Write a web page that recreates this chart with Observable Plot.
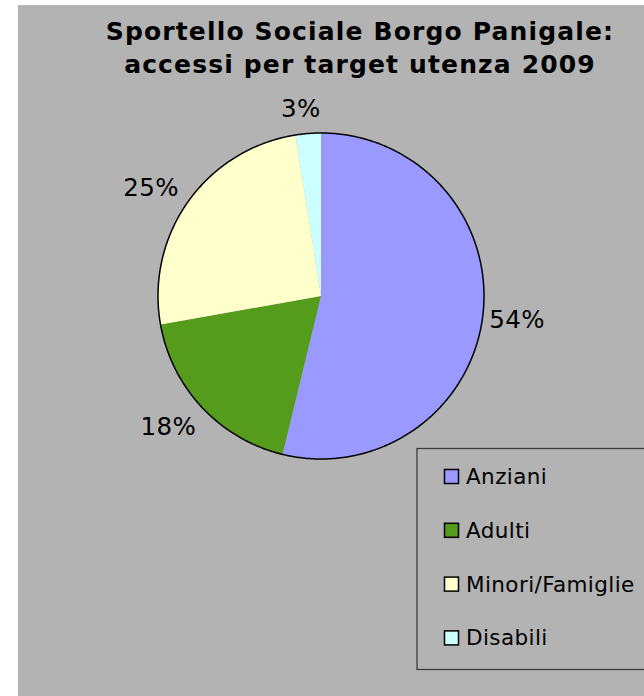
<!DOCTYPE html>
<html>
<head>
<meta charset="utf-8">
<script src="https://cdn.jsdelivr.net/npm/d3@7"></script>
<script src="https://cdn.jsdelivr.net/npm/@observablehq/plot@0.6"></script>
<style>
  html, body { margin: 0; padding: 0; background: #ffffff; }
  #wrap { position: absolute; left: 18px; top: 5px; width: 626px; height: 691px; background: #b3b3b3; overflow: hidden; font-family: "DejaVu Sans", Verdana, sans-serif; }
  #title { position: absolute; left: 0; top: 10px; width: 684px; text-align: center; font-weight: bold; font-size: 25px; line-height: 33px; letter-spacing: 1.15px; color: #000; }
  #plot { position: absolute; left: 0; top: 0; }
  #legend { position: absolute; left: 0; top: 0; }
</style>
</head>
<body>
<div id="wrap">
  <div id="plot"></div>
  <div id="title">Sportello Sociale Borgo Panigale:<br>accessi per target utenza 2009</div>
  <svg id="legend" width="626" height="691"></svg>
</div>
<script>
// ---- data ----
const categories = ["Anziani", "Adulti", "Minori/Famiglie", "Disabili"];
const shares = [53.8, 18.4, 25.3, 2.5];   // percent of accessi
const colors = ["#9999ff", "#559b1c", "#ffffcc", "#ccffff"];
const labels = ["54%", "18%", "25%", "3%"];

// ---- pie geometry (in unit-circle data coordinates) ----
const pie = d3.pie().sort(null).value(d => d)(shares);
const slicePts = [];
pie.forEach((p, i) => {
  const name = categories[i];
  slicePts.push({name, x: 0, y: 0});
  const n = Math.max(2, Math.ceil((p.endAngle - p.startAngle) / (Math.PI / 360)));
  for (let k = 0; k <= n; k++) {
    const a = p.startAngle + (p.endAngle - p.startAngle) * k / n;
    slicePts.push({name, x: Math.sin(a), y: Math.cos(a)});
  }
  slicePts.push({name, x: 0, y: 0});
});
const circlePts = d3.range(0, 721).map(k => {
  const a = k / 720 * 2 * Math.PI;
  return {x: Math.sin(a), y: Math.cos(a)};
});

// label placement: just outside the rim, nudged by half the text box
const R = 163; // pixel radius, used only to convert pixel offsets
const labelPts = pie.map((p, i) => {
  const a = (p.startAngle + p.endAngle) / 2;
  const ux = Math.sin(a), uy = Math.cos(a);
  const hw = labels[i].length === 2 ? 19.5 : 27.5;
  const hh = 14;
  return {
    text: labels[i],
    x: ((R + 12) * ux + hw * ux) / R,
    y: ((R + 12) * uy + hh * uy) / R
  };
});

const chart = Plot.plot({
  width: 626,
  height: 691,
  marginLeft: 139.5,
  marginRight: 160.5,
  marginTop: 127.5,
  marginBottom: 237.5,
  x: {domain: [-1, 1], axis: null},
  y: {domain: [-1, 1], axis: null},
  color: {domain: categories, range: colors},
  style: {background: "transparent", fontFamily: "DejaVu Sans, Verdana, sans-serif"},
  marks: [
    Plot.line(slicePts, {x: "x", y: "y", z: "name", fill: "name", stroke: "none", curve: "linear"}),
    Plot.line(circlePts, {x: "x", y: "y", stroke: "#000", strokeWidth: 1.5, fill: "none", curve: "linear"}),
    Plot.text(labelPts, {x: "x", y: "y", text: "text", fontSize: 24.5, fill: "#000", textAnchor: "middle", lineAnchor: "middle", dx: -5, dy: 2, style: {letterSpacing: "0.4px"}})
  ]
});
chart.querySelectorAll("text").forEach(t => t.style.letterSpacing = "0.4px");
document.getElementById("plot").appendChild(chart);

// ---- legend (page coords minus wrap offset 18,5) ----
const lg = d3.select("#legend");
lg.append("rect")
  .attr("x", 399).attr("y", 443.5).attr("width", 400).attr("height", 221)
  .attr("fill", "none").attr("stroke", "#3c3c3c").attr("stroke-width", 1.3);
categories.forEach((c, i) => {
  const base = 479 + i * 53.8;
  lg.append("rect")
    .attr("x", 426.5).attr("y", base - 14.5).attr("width", 14).attr("height", 14)
    .attr("fill", colors[i]).attr("stroke", "#000").attr("stroke-width", 1.5);
  lg.append("text")
    .attr("x", 448).attr("y", base)
    .attr("font-size", 21.5).attr("fill", "#000")
    .attr("letter-spacing", "0.4px")
    .attr("font-family", "DejaVu Sans, Verdana, sans-serif")
    .text(c);
});
</script>
</body>
</html>
